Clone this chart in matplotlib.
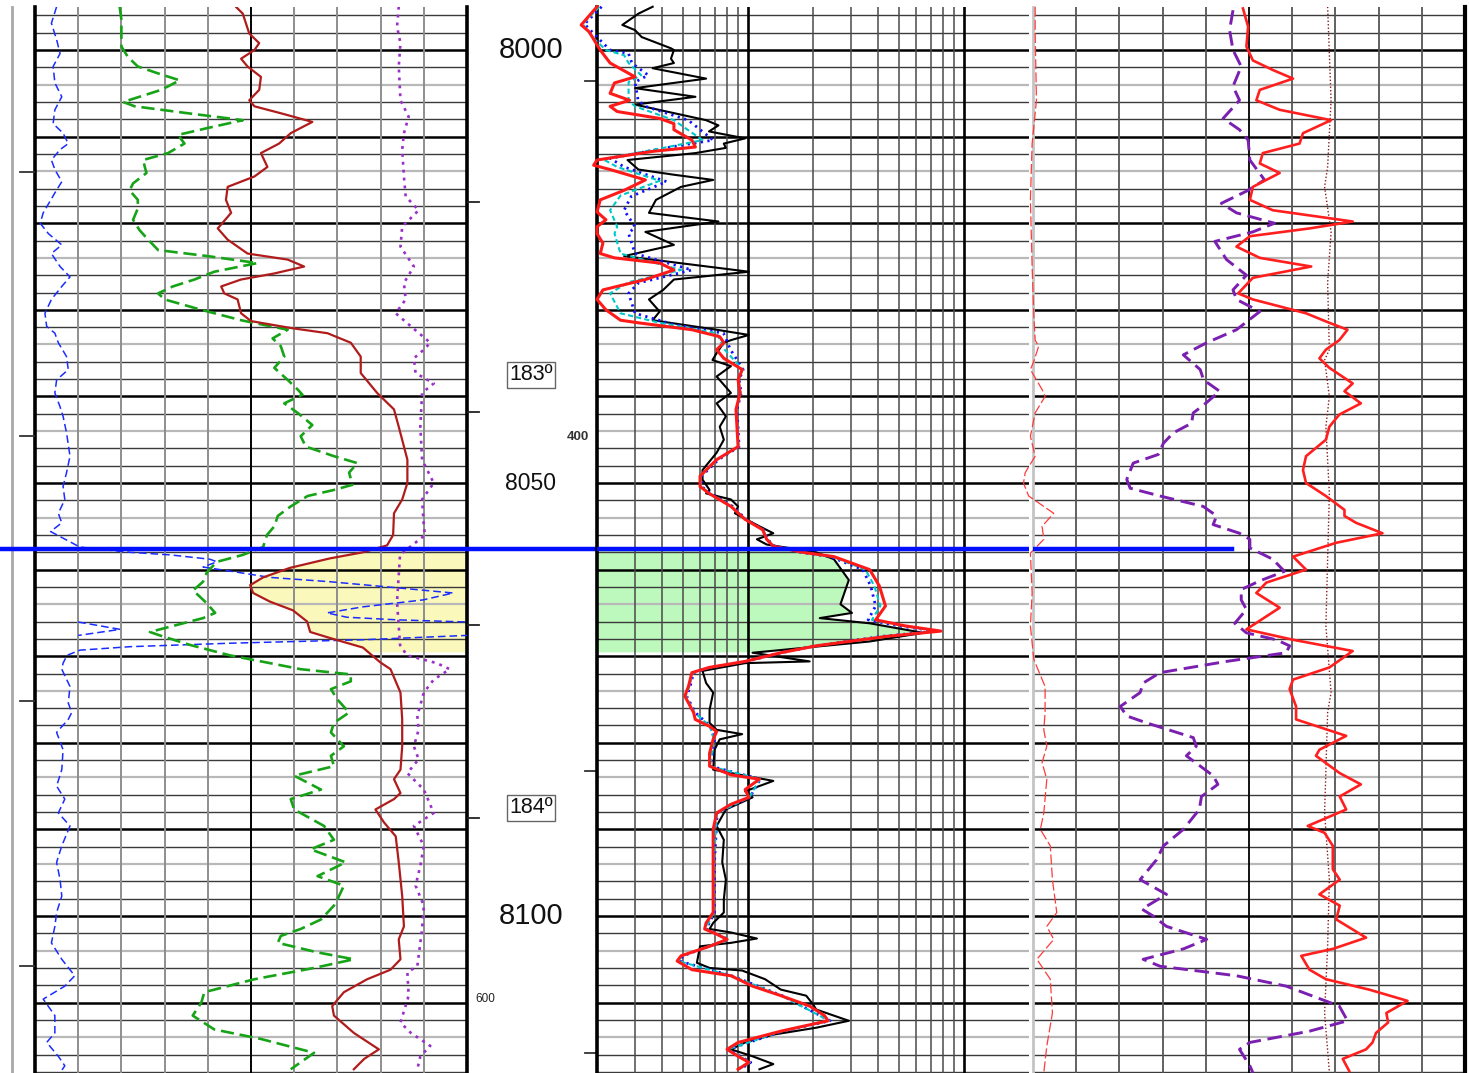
import numpy as np
import matplotlib
matplotlib.use("Agg")
import matplotlib.pyplot as plt

plt.rcParams['font.family'] = ['Liberation Sans', 'DejaVu Sans']

# ---------------- depth window (ft) ----------------
DEPTH_TOP, DEPTH_BOTTOM = 7995.03, 8118.13
ZONE_TOP, ZONE_BOTTOM = 8057.6, 8069.5   # pay zone marker & shading

# ---------------- left track (linear 0-100) ----------------
l1_depth = [7995.0, 7996.9, 7998.8, 8000.4, 8001.9, 8003.8, 8005.4, 8006.9, 8008.5, 8009.6, 8010.8, 8011.5,
            8012.7, 8013.8, 8015.2, 8016.5, 8018.8, 8020.0, 8021.2, 8022.5, 8023.5, 8025.0, 8026.2, 8027.3,
            8028.8, 8030.4, 8031.9, 8032.7, 8033.8, 8035.4, 8036.9, 8038.1, 8039.6, 8041.2, 8042.3, 8044.2,
            8046.9, 8048.8, 8050.4, 8051.9, 8053.5, 8054.6, 8055.6, 8057.4, 8058.0, 8058.3, 8058.8, 8059.1,
            8059.7, 8060.3, 8060.9, 8061.4, 8062.1, 8062.7, 8063.5, 8064.3, 8065.0, 8065.5, 8065.8, 8066.05,
            8066.9, 8067.6, 8068.1, 8068.5, 8068.9, 8069.3, 8069.9, 8070.8, 8071.5, 8073.5, 8075.4, 8076.5,
            8077.3, 8078.8, 8080.8, 8083.1, 8085.0, 8086.5, 8088.1, 8089.6, 8091.9, 8093.8, 8095.8, 8097.7,
            8099.6, 8101.2, 8103.1, 8105.0, 8106.9, 8108.1, 8109.6, 8111.5, 8113.5, 8114.6, 8116.2, 8117.3, 8118.1]
l1_value = [5.0, 3.8, 5.0, 5.8, 4.2, 4.6, 6.2, 4.6, 4.2, 6.5, 7.7, 5.8,
            3.8, 4.6, 6.2, 4.6, 1.9, 1.2, 3.1, 6.2, 3.8, 5.8, 8.1, 6.2,
            3.8, 2.3, 2.7, 4.6, 5.4, 7.3, 7.7, 5.0, 4.6, 5.8, 6.5, 7.3,
            8.1, 7.3, 6.5, 6.9, 5.4, 6.2, 3.6, 10.4, 22.0, 31.3, 40.5, 42.1,
            38.9, 46.8, 54.4, 68.3, 83.8, 96.8, 89.8, 75.9, 67.6, 72.2, 83.8, 100.0,
            109.7, 100.0, 75.9, 45.1, 22.0, 10.4, 7.4, 6.5, 6.2, 8.1, 7.7, 8.5,
            7.7, 5.0, 6.5, 6.2, 5.0, 6.9, 5.4, 8.1, 6.2, 5.0, 5.8, 6.2,
            5.0, 4.6, 3.8, 6.2, 9.2, 6.9, 1.9, 4.6, 4.6, 2.7, 5.4, 6.9, 5.8]

l2_depth = [7995.0, 7996.5, 7999.6, 8000.8, 8001.9, 8002.7, 8003.5, 8004.6, 8006.0, 8006.5, 8007.3, 8008.1,
            8009.0, 8009.8, 8010.8, 8011.9, 8012.7, 8014.2, 8015.4, 8016.2, 8017.3, 8018.3, 8019.6, 8020.8,
            8021.9, 8023.1, 8023.8, 8024.6, 8025.6, 8026.5, 8027.3, 8028.1, 8028.8, 8030.0, 8031.2, 8032.3,
            8033.3, 8034.2, 8035.4, 8036.7, 8038.1, 8039.2, 8039.8, 8040.8, 8041.9, 8043.3, 8044.6, 8045.8,
            8046.9, 8047.7, 8048.8, 8050.2, 8050.8, 8051.5, 8052.7, 8053.8, 8055.0, 8056.0, 8057.4, 8058.3,
            8059.1, 8060.3, 8061.4, 8062.4, 8063.9, 8065.0, 8065.6, 8067.2, 8067.6, 8068.7, 8069.9, 8070.8,
            8071.5, 8072.1, 8072.9, 8073.8, 8075.0, 8076.5, 8077.7, 8078.8, 8080.4, 8081.5, 8082.7, 8083.8,
            8085.4, 8086.5, 8087.7, 8089.6, 8091.2, 8092.3, 8093.8, 8095.4, 8096.5, 8098.1, 8098.8, 8100.4,
            8101.5, 8102.3, 8103.1, 8104.2, 8105.0, 8106.0, 8107.3, 8108.8, 8110.0, 8111.5, 8113.1, 8114.2,
            8115.8, 8117.7]
l2_value = [19.6, 20.0, 20.0, 21.5, 23.8, 28.5, 33.5, 29.2, 20.4, 23.1, 35.4, 48.1,
            40.0, 33.1, 34.6, 30.8, 25.0, 25.8, 22.7, 21.9, 23.8, 23.8, 22.7, 24.2,
            26.2, 28.5, 40.0, 51.5, 41.5, 36.9, 31.9, 28.5, 30.0, 38.5, 47.7, 58.5,
            55.0, 56.9, 57.7, 55.4, 58.5, 60.8, 61.9, 57.7, 60.8, 64.2, 61.5, 62.7,
            69.2, 74.6, 72.7, 73.5, 69.2, 63.1, 59.2, 56.2, 55.4, 53.7, 52.8, 48.1,
            42.1, 39.8, 38.9, 36.6, 39.8, 41.7, 38.9, 26.6, 28.9, 35.9, 45.1, 54.4,
            61.5, 73.1, 73.1, 68.5, 70.0, 72.7, 69.2, 68.5, 71.5, 68.5, 69.2, 60.0,
            66.2, 59.2, 60.0, 66.9, 69.2, 63.8, 71.9, 65.4, 71.5, 70.0, 69.2, 66.2,
            61.5, 56.9, 56.2, 65.4, 73.8, 64.6, 50.8, 39.2, 38.5, 36.5, 41.5, 52.3,
            64.6, 59.2]

l3_depth = [7995.0, 7995.8, 7998.1, 7999.2, 8000.0, 8001.0, 8001.9, 8003.1, 8004.6, 8005.8, 8006.5, 8007.3,
            8008.3, 8009.6, 8010.8, 8011.9, 8013.5, 8014.6, 8015.8, 8017.3, 8018.8, 8020.6, 8021.9, 8023.5,
            8024.2, 8025.0, 8025.8, 8026.5, 8027.3, 8028.1, 8028.8, 8030.4, 8031.3, 8032.1, 8032.7, 8033.8,
            8035.4, 8037.3, 8039.6, 8041.5, 8043.5, 8047.3, 8050.0, 8051.9, 8053.5, 8056.0, 8057.2, 8058.0,
            8058.7, 8059.8, 8060.9, 8061.8, 8062.7, 8063.7, 8064.7, 8066.0, 8067.2, 8067.9, 8069.0, 8070.7,
            8071.5, 8074.2, 8077.3, 8080.4, 8083.1, 8084.2, 8085.8, 8086.5, 8087.7, 8089.2, 8090.8, 8093.8,
            8097.7, 8101.2, 8102.7, 8105.0, 8106.2, 8107.3, 8108.8, 8110.4, 8111.5, 8113.5, 8115.4, 8116.5, 8117.7]
l3_value = [46.5, 48.1, 49.6, 51.9, 50.8, 47.7, 49.2, 52.3, 51.9, 49.6, 50.8, 56.9,
            64.2, 59.2, 56.5, 52.3, 53.8, 50.8, 44.6, 44.2, 45.4, 42.3, 44.6, 49.2,
            58.5, 62.3, 55.4, 47.7, 43.1, 43.8, 46.9, 47.7, 50.0, 59.2, 67.7, 73.1,
            75.4, 75.4, 79.2, 83.1, 84.2, 86.2, 86.2, 85.0, 83.1, 82.9, 81.5, 75.9,
            68.3, 59.0, 52.8, 49.8, 50.5, 54.4, 59.7, 63.0, 63.7, 68.3, 75.9, 79.9,
            82.3, 84.6, 85.0, 85.0, 84.6, 83.1, 84.6, 83.1, 78.8, 80.8, 83.5, 84.2,
            85.0, 85.4, 84.2, 84.6, 82.3, 76.9, 71.5, 68.8, 69.2, 73.8, 79.6, 76.2, 73.8]

l4_depth = [7995.0, 7997.3, 7999.2, 8001.9, 8005.8, 8007.7, 8009.6, 8011.5, 8014.6, 8016.9, 8018.5, 8020.4,
            8022.7, 8025.0, 8026.9, 8028.8, 8030.4, 8031.9, 8033.8, 8034.6, 8035.6, 8037.3, 8038.5, 8039.6,
            8043.5, 8047.3, 8050.0, 8051.9, 8055.0, 8056.0, 8058.3, 8063.7, 8068.7, 8069.9, 8070.8, 8071.5,
            8072.7, 8074.2, 8076.9, 8078.5, 8080.4, 8081.9, 8083.5, 8085.4, 8088.1, 8089.6, 8091.9, 8094.2,
            8096.5, 8098.8, 8101.5, 8105.8, 8106.5, 8109.2, 8112.3, 8113.5, 8115.0, 8116.2, 8117.7]
l4_value = [84.2, 83.8, 84.6, 84.2, 84.6, 86.5, 85.4, 85.0, 85.4, 85.8, 88.8, 85.0,
            84.6, 87.7, 85.4, 85.8, 83.5, 87.0, 91.5, 90.0, 87.7, 88.1, 92.3, 89.6,
            89.2, 89.6, 92.3, 89.6, 90.0, 90.3, 84.5, 83.8, 84.5, 86.1, 93.0, 96.0,
            92.3, 90.0, 88.5, 88.8, 87.7, 88.8, 86.2, 90.0, 92.3, 87.7, 90.0, 89.2,
            88.1, 90.0, 89.6, 88.5, 86.2, 86.5, 84.6, 87.0, 91.5, 89.2, 88.5]

# ---------------- middle track (log 2-200) ----------------
m1_depth = [7995.0, 7995.8, 7997.1, 7997.7, 7998.5, 7999.8, 8000.0, 8001.0, 8001.5, 8002.1, 8003.3, 8004.4,
            8005.4, 8006.3, 8007.1, 8008.1, 8008.7, 8009.4, 8010.2, 8010.8, 8011.3, 8011.9, 8012.7, 8013.8,
            8014.4, 8015.0, 8015.8, 8017.3, 8018.8, 8019.8, 8021.0, 8022.5, 8023.8, 8025.6, 8026.5, 8027.7,
            8028.8, 8030.2, 8031.2, 8032.3, 8032.9, 8033.5, 8033.8, 8035.0, 8035.8, 8036.5, 8037.7, 8039.6,
            8040.8, 8042.3, 8043.5, 8045.0, 8046.5, 8048.5, 8049.6, 8050.8, 8051.2, 8051.9, 8052.7, 8053.5,
            8055.0, 8055.8, 8056.5, 8057.1, 8058.0, 8058.8, 8061.2, 8064.0, 8065.0, 8065.6, 8066.2, 8067.3,
            8068.3, 8069.6, 8070.6, 8070.8, 8071.7, 8073.1, 8074.2, 8076.2, 8077.7, 8078.5, 8079.0, 8079.6,
            8080.8, 8083.1, 8083.8, 8084.4, 8085.6, 8086.3, 8087.7, 8089.6, 8091.2, 8093.8, 8095.8, 8098.1,
            8099.6, 8100.8, 8101.5, 8101.9, 8102.6, 8103.1, 8103.5, 8105.4, 8106.0, 8106.3, 8107.3, 8108.5,
            8109.2, 8110.2, 8110.8, 8112.1, 8112.9, 8113.7, 8114.6, 8115.4, 8116.2, 8117.1, 8117.7]
m1_value = [3.62, 3.11, 2.62, 3.0, 3.22, 4.4, 4.54, 4.4, 4.54, 3.62, 6.4, 3.0,
            5.71, 3.0, 4.2, 6.4, 7.3, 6.6, 9.7, 7.73, 7.9, 5.71, 2.77, 3.11,
            4.54, 6.9, 4.9, 3.75, 3.48, 7.3, 3.35, 4.54, 2.67, 10.1, 4.54, 4.05,
            3.48, 3.9, 3.62, 7.16, 10.1, 8.34, 7.73, 7.16, 6.85, 8.34, 7.16, 8.34,
            7.16, 7.9, 7.4, 7.73, 7.16, 6.16, 6.16, 6.64, 6.4, 8.34, 9.0, 8.7,
            11.3, 13.1, 11.0, 12.2, 20.7, 25.0, 29.3, 26.8, 30.3, 21.5, 36.6, 64.7,
            36.6, 10.5, 19.3, 9.7, 6.16, 6.4, 6.9, 6.64, 6.64, 7.16, 9.4, 7.4,
            7.0, 6.9, 9.7, 13.1, 9.7, 10.5, 7.9, 7.16, 7.73, 7.6, 7.9, 7.73,
            7.73, 6.9, 6.64, 8.34, 11.0, 8.34, 6.0, 5.8, 6.64, 9.4, 12.0, 14.2,
            18.6, 20.0, 20.7, 29.3, 20.7, 13.1, 9.7, 8.34, 10.5, 13.1, 11.3]

m2_depth = [7995.0, 7997.0, 7998.5, 8000.0, 8000.4, 8001.5, 8002.9, 8003.7, 8005.8, 8006.5, 8008.1, 8010.4,
            8011.2, 8012.5, 8013.5, 8015.2, 8016.9, 8018.5, 8020.4, 8021.2, 8023.5, 8025.4, 8026.9, 8028.1,
            8030.4, 8031.7, 8032.7, 8034.6, 8036.9, 8038.1, 8039.6, 8041.5, 8045.8, 8047.3, 8049.2, 8050.4,
            8051.2, 8052.7, 8054.2, 8055.4, 8056.5, 8057.3, 8058.0, 8058.5, 8060.0, 8061.9, 8064.2, 8065.8,
            8066.5, 8067.1, 8067.7, 8068.8, 8069.6, 8070.6, 8071.3, 8071.9, 8073.5, 8074.6, 8076.5, 8078.1,
            8079.6, 8082.7, 8084.2, 8086.3, 8088.1, 8093.8, 8099.6, 8101.5, 8102.7, 8104.6, 8105.2, 8106.9,
            8109.2, 8112.1, 8113.3, 8115.4, 8116.9, 8117.7]
m2_value = [2.1, 1.75, 2.0, 2.3, 2.8, 2.9, 3.45, 3.0, 3.1, 3.35, 5.29, 6.9,
            4.4, 2.3, 2.67, 4.2, 2.88, 2.67, 3.0, 2.8, 3.0, 5.5, 3.11, 2.8,
            3.0, 4.54, 7.7, 8.3, 9.5, 9.1, 9.3, 8.9, 9.1, 7.3, 6.1, 6.1,
            6.7, 8.5, 9.8, 11.8, 12.3, 13.3, 17.5, 24.0, 34.0, 37.0, 39.0, 36.0,
            50.0, 74.0, 42.0, 20.5, 14.3, 9.8, 6.7, 5.6, 5.4, 5.2, 5.7, 6.7,
            7.0, 6.7, 11.4, 10.2, 7.2, 7.0, 7.0, 6.4, 8.1, 5.0, 4.8, 8.4,
            14.4, 24.0, 14.5, 8.1, 10.3, 9.2]

m3_depth = [7995.0, 7997.0, 7998.5, 8000.0, 8000.6, 8001.5, 8002.9, 8003.7, 8005.8, 8006.5, 8008.1, 8010.4,
            8011.3, 8012.6, 8013.5, 8015.1, 8016.8, 8018.5, 8020.4, 8021.2, 8023.5, 8025.4, 8026.8, 8028.1,
            8030.4, 8031.5, 8032.7, 8034.6, 8036.9, 8038.1, 8039.6, 8041.5, 8045.8, 8047.3, 8049.2, 8050.4,
            8051.2, 8052.7, 8054.2, 8055.4, 8056.5, 8057.3, 8058.0, 8058.5, 8060.0, 8061.9, 8064.2, 8065.8,
            8066.5, 8067.1, 8067.7, 8068.8, 8069.6, 8070.6, 8071.3, 8071.9, 8073.5, 8074.6, 8076.5, 8078.1,
            8079.6, 8082.7, 8084.2, 8086.3, 8088.1, 8093.8, 8099.6, 8101.5, 8102.7, 8104.6, 8105.2, 8106.9,
            8109.2, 8112.1, 8113.3, 8115.4, 8116.9, 8117.7]
m3_value = [2.05, 1.72, 1.9, 2.2, 2.67, 2.8, 3.2, 2.8, 2.8, 3.0, 4.54, 6.16,
            4.05, 2.13, 2.48, 3.9, 2.57, 2.3, 2.48, 2.41, 2.57, 4.9, 2.8, 2.3,
            2.57, 3.9, 7.16, 7.8, 9.45, 9.05, 9.25, 8.85, 9.05, 7.2, 6.05, 6.05,
            6.65, 8.4, 9.75, 11.75, 12.25, 13.2, 17.7, 24.5, 35.0, 38.5, 41.0, 37.5,
            52.0, 76.0, 43.0, 20.6, 14.25, 9.75, 6.65, 5.55, 5.35, 5.15, 5.65, 6.67,
            6.95, 6.67, 11.35, 10.15, 7.18, 6.95, 6.95, 6.35, 8.05, 4.95, 4.75, 8.37,
            14.3, 23.8, 14.35, 8.05, 10.2, 9.1]

m4_depth = [7995.0, 7997.1, 7997.9, 8000.0, 8001.5, 8003.1, 8003.8, 8005.0, 8005.8, 8006.5, 8007.1, 8007.9,
            8008.5, 8009.2, 8010.4, 8011.2, 8011.7, 8012.7, 8013.3, 8013.8, 8015.0, 8016.2, 8017.3, 8018.7,
            8019.6, 8020.4, 8021.2, 8022.3, 8023.5, 8024.0, 8024.6, 8025.4, 8026.5, 8027.7, 8028.8, 8030.0,
            8031.2, 8031.5, 8032.3, 8033.1, 8033.8, 8034.6, 8035.6, 8036.9, 8038.1, 8039.6, 8041.5, 8045.8,
            8047.3, 8049.2, 8050.4, 8051.2, 8052.7, 8054.2, 8055.4, 8056.5, 8057.3, 8058.0, 8058.5, 8060.0,
            8061.9, 8064.2, 8065.8, 8066.5, 8067.1, 8067.7, 8068.8, 8069.6, 8070.6, 8071.3, 8071.9, 8073.5,
            8074.6, 8076.5, 8077.3, 8078.1, 8078.7, 8079.6, 8081.2, 8082.7, 8083.7, 8084.2, 8085.4, 8086.3,
            8087.1, 8088.1, 8090.0, 8093.8, 8097.7, 8099.6, 8100.8, 8101.5, 8102.1, 8102.7, 8103.5, 8104.6,
            8105.2, 8106.2, 8106.9, 8108.1, 8109.2, 8110.4, 8111.5, 8112.1, 8113.3, 8114.6, 8115.4, 8116.2,
            8116.9, 8117.7]
m4_value = [2.0, 1.69, 1.84, 2.07, 2.3, 3.0, 2.41, 2.3, 2.83, 2.3, 2.48, 3.9,
            4.54, 4.54, 5.5, 5.71, 3.62, 2.0, 1.93, 2.3, 3.35, 2.67, 2.07, 2.0,
            2.2, 2.0, 2.0, 2.13, 2.07, 2.41, 3.9, 4.54, 3.35, 2.13, 2.0, 2.2,
            2.57, 3.11, 5.5, 7.4, 7.73, 7.16, 7.73, 9.4, 9.0, 9.2, 8.8, 9.0,
            7.16, 6.0, 6.0, 6.6, 8.34, 9.7, 11.7, 12.2, 13.1, 17.9, 25.0, 36.6,
            40.6, 43.3, 39.0, 53.5, 78.2, 44.2, 20.7, 14.2, 9.7, 6.6, 5.5, 5.3,
            5.1, 5.6, 5.7, 6.64, 7.16, 6.9, 6.64, 6.64, 8.34, 11.3, 9.7, 10.1,
            8.34, 7.16, 6.9, 6.9, 6.9, 6.9, 6.4, 6.3, 7.16, 8.0, 6.64, 4.9,
            4.7, 5.5, 8.34, 10.5, 14.2, 19.3, 22.6, 23.5, 14.2, 9.0, 8.0, 9.0,
            10.1, 9.0]

# ---------------- right track (linear 0-100) ----------------
r1_depth = [7995.0, 7998.1, 8005.8, 8010.8, 8017.3, 8025.0, 8030.8, 8033.5, 8034.2, 8035.8, 8036.9, 8039.2,
            8040.0, 8041.9, 8044.6, 8046.9, 8048.8, 8050.0, 8051.5, 8053.5, 8055.0, 8056.5, 8058.1, 8062.7,
            8066.5, 8070.4, 8073.5, 8076.5, 8078.5, 8080.4, 8082.3, 8084.2, 8088.1, 8090.0, 8091.9, 8095.8,
            8099.6, 8101.2, 8102.7, 8105.0, 8107.3, 8111.2, 8115.0, 8118.1]
r1_value = [0.5, 0.5, 0.8, -0.2, -0.6, -0.2, 0.2, 0.5, 1.3, 0.3, -0.6, 2.1,
            2.8, 0.5, -0.6, 0.5, -1.8, -2.2, -1.0, 4.8, 2.1, 2.5, -0.6, -0.2,
            -0.6, 0.2, 2.8, 2.8, 2.5, 3.2, 2.1, 3.2, 2.5, 1.7, 4.0, 4.5,
            5.5, 3.2, 4.8, 0.9, 4.0, 4.5, 3.2, 2.5]

r2_depth = [7995.4, 7997.7, 8000.0, 8001.9, 8004.2, 8005.8, 8007.9, 8009.2, 8010.4, 8012.7, 8015.0, 8016.3,
            8017.7, 8018.8, 8020.0, 8021.0, 8022.1, 8024.2, 8026.0, 8027.7, 8028.8, 8030.2, 8032.3, 8033.8,
            8035.2, 8036.9, 8038.1, 8039.4, 8041.0, 8041.9, 8043.1, 8044.2, 8045.4, 8046.7, 8047.7, 8049.6,
            8050.6, 8051.5, 8052.7, 8053.8, 8054.8, 8055.8, 8056.5, 8057.5, 8058.8, 8060.2, 8061.3, 8062.3,
            8063.5, 8064.6, 8066.2, 8067.3, 8068.1, 8068.8, 8069.6, 8070.6, 8071.9, 8073.1, 8074.2, 8075.8,
            8076.9, 8077.7, 8079.4, 8080.4, 8081.5, 8083.8, 8084.8, 8086.2, 8087.7, 8090.0, 8091.9, 8093.5,
            8095.8, 8097.5, 8099.2, 8100.0, 8101.2, 8102.7, 8103.8, 8105.0, 8105.8, 8106.9, 8108.1, 8110.4,
            8112.1, 8113.3, 8114.6, 8115.4, 8117.3, 8118.1]
r2_value = [46.3, 45.5, 46.3, 48.2, 46.3, 47.8, 44.0, 47.8, 49.8, 50.2, 53.6, 49.4,
            43.6, 47.1, 55.9, 50.9, 42.1, 44.8, 49.4, 46.3, 47.1, 52.5, 47.1, 40.2,
            34.8, 38.7, 39.5, 43.2, 39.5, 37.1, 36.7, 32.5, 30.2, 29.0, 23.2, 21.7,
            22.5, 29.4, 39.4, 42.5, 41.7, 47.8, 50.2, 50.2, 55.5, 58.2, 52.5, 48.2,
            48.2, 49.4, 46.7, 49.4, 56.3, 59.4, 58.6, 44.8, 29.4, 25.5, 24.8, 20.2,
            21.7, 26.3, 37.1, 37.8, 35.5, 41.7, 42.8, 39.0, 38.5, 34.8, 30.2, 28.6,
            24.8, 30.9, 25.2, 27.8, 30.9, 40.2, 34.8, 25.5, 29.4, 47.1, 58.6, 70.9,
            72.8, 64.0, 50.2, 47.8, 50.2, 50.9]

r3_depth = [7995.2, 7997.3, 7999.6, 8001.2, 8002.3, 8003.3, 8004.6, 8005.8, 8006.9, 8008.1, 8009.6, 8010.8,
            8011.9, 8013.1, 8014.2, 8015.8, 8017.3, 8018.5, 8019.8, 8020.6, 8021.5, 8022.7, 8024.0, 8025.0,
            8026.3, 8028.1, 8028.8, 8030.4, 8031.5, 8032.3, 8033.5, 8034.6, 8035.6, 8036.7, 8038.5, 8039.4,
            8040.8, 8042.1, 8043.5, 8045.0, 8046.9, 8048.5, 8050.0, 8051.5, 8053.1, 8053.8, 8054.6, 8055.8,
            8056.9, 8058.5, 8060.0, 8061.5, 8062.7, 8064.4, 8066.9, 8068.1, 8069.4, 8071.3, 8072.7, 8073.8,
            8075.8, 8077.3, 8079.2, 8080.8, 8081.5, 8083.5, 8084.8, 8086.2, 8087.7, 8089.6, 8090.4, 8091.9,
            8094.6, 8095.8, 8097.5, 8098.8, 8100.4, 8102.5, 8103.8, 8104.6, 8106.2, 8107.3, 8108.5, 8109.8,
            8111.2, 8112.3, 8113.5, 8114.6, 8115.4, 8116.5, 8117.9]
r3_value = [48.6, 49.8, 49.4, 50.9, 55.5, 60.2, 52.5, 51.7, 57.1, 69.0, 62.5, 61.7,
            53.2, 52.5, 57.1, 50.9, 50.2, 55.5, 74.0, 64.0, 50.2, 47.1, 52.5, 64.4,
            50.9, 47.5, 50.9, 63.2, 68.6, 72.8, 70.9, 67.8, 66.3, 68.6, 74.0, 72.1,
            75.9, 70.9, 68.6, 67.8, 63.2, 62.5, 63.2, 67.8, 72.1, 72.1, 74.8, 80.9,
            70.2, 60.2, 63.2, 54.0, 51.7, 57.1, 49.4, 60.2, 74.0, 68.6, 60.2, 59.4,
            60.9, 60.9, 72.5, 66.3, 65.5, 71.0, 75.9, 71.0, 72.5, 63.6, 67.5, 69.4,
            69.4, 71.0, 66.3, 71.0, 70.2, 77.1, 69.4, 62.1, 64.0, 67.8, 77.8, 86.7,
            81.8, 82.2, 79.4, 78.6, 77.1, 71.7, 73.2]

r4_depth = [7995.0, 8005.8, 8013.5, 8015.8, 8021.0, 8026.9, 8034.6, 8035.8, 8040.0, 8043.5, 8051.2, 8058.8,
            8066.5, 8074.2, 8076.5, 8088.1, 8095.8, 8103.5, 8111.2, 8118.0]
r4_value = [68.2, 69.0, 68.2, 67.5, 69.0, 68.2, 68.6, 67.5, 68.6, 67.8, 68.6, 68.2,
            67.8, 69.0, 68.2, 67.5, 68.6, 68.2, 67.5, 68.6]

# ---------------- annotations ----------------
depth_labels = [8000, 8050, 8100]
depth_label_sizes = [21, 16.5, 21]
temp_labels = ["183º", "184º"]
temp_depths = [8037.5, 8087.5]
scale_labels = ["400", "600"]
scale_label_depths = [8044.7, 8109.6]
ticks_left_margin = [8014.1, 8044.6, 8075.2, 8105.8]
ticks_depth_left = [8017.55, 8041.8, 8066.4, 8088.7]
ticks_depth_right = [8003.6, 8083.3, 8115.8]

# ---------------- figure ----------------
W, Hpx = 1469, 1073
fig = plt.figure(figsize=(W / 100, Hpx / 100), dpi=100)
H = 1066 / Hpx
ax_l = fig.add_axes([35 / W, 0, 432 / W, H])
ax_d = fig.add_axes([467 / W, 0, 130 / W, H])
ax_m = fig.add_axes([597 / W, 0, 432 / W, H])
ax_r = fig.add_axes([1033 / W, 0, 432 / W, H])

ax_l.set_xlim(0, 100)
ax_r.set_xlim(0, 100)
ax_m.set_xscale('log')
ax_m.set_xlim(2, 200)
ax_d.set_xlim(0, 1)
for ax in (ax_l, ax_d, ax_m, ax_r):
    ax.set_ylim(DEPTH_BOTTOM, DEPTH_TOP)
    ax.set_axis_off()

# horizontal grid
grid_depths = np.arange(7996, 8119, 2)
for ax in (ax_l, ax_m, ax_r):
    for d in grid_depths:
        if d % 10 == 0:
            ax.axhline(d, color='black', lw=1.8, zorder=1)
        elif d % 10 == 4:
            ax.axhline(d, color='#b8b8b8', lw=1.6, zorder=1)
        else:
            ax.axhline(d, color='#3a3a3a', lw=1.0, zorder=1)

# vertical grid - left track
for v in range(10, 100, 10):
    ax_l.axvline(v, color='black' if v == 50 else '#8e8e8e', lw=1.4, zorder=1)
for v in (0, 100):
    ax_l.axvline(v, color='black', lw=2.6, zorder=2, clip_on=False)
# middle (log)
for dec in (1, 10):
    for k in range(2, 10):
        v = k * dec
        if v > 2:
            ax_m.axvline(v, color='#4a4a4a', lw=1.1, zorder=1)
for v in (10, 100):
    ax_m.axvline(v, color='black', lw=1.9, zorder=1)
ax_m.axvline(2, color='black', lw=2.6, zorder=2, clip_on=False)
# right
for v in range(10, 100, 10):
    ax_r.axvline(v, color='black' if v == 50 else '#555555', lw=1.3, zorder=1)
ax_r.axvline(0, color='#c4c4c4', lw=2.0, zorder=1, clip_on=False)
ax_r.axvline(100, color='black', lw=3.0, zorder=2, clip_on=False)

# fills in the pay zone
dd = np.linspace(ZONE_TOP, ZONE_BOTTOM, 300)
ax_l.fill_betweenx(dd, np.interp(dd, l3_depth, l3_value), 100, color='#fbf8bc', lw=0, zorder=0.5)
ax_m.fill_betweenx(dd, 2, 10 ** np.interp(dd, m1_depth, np.log10(m1_value)),
                   color='#bdf8bd', lw=0, zorder=0.5)

# left-track curves
l1v = np.array(l1_value)
ax_l.plot(l1v, l1_depth, color='#1a2cff', lw=1.1, dashes=(5, 2.6), zorder=3)
ax_l.plot(np.where(l1v >= 100, l1v - 90, np.nan), l1_depth, color='#1a2cff', lw=1.1,
          dashes=(5, 2.6), zorder=3)
ax_l.plot(l2_value, l2_depth, color='#17a317', lw=1.9, dashes=(5, 2.2), zorder=3)
ax_l.plot(l3_value, l3_depth, color='#b01c1c', lw=1.6, zorder=3)
ax_l.plot(l4_value, l4_depth, color='#9a30c8', lw=1.9, dashes=(1.1, 1.9), zorder=3)

# middle-track curves
ax_m.plot(m1_value, m1_depth, color='black', lw=1.5, zorder=3, clip_on=False)
ax_m.plot(m2_value, m2_depth, color='#1010ff', lw=2.0, dashes=(0.8, 1.6), zorder=3, clip_on=False)
ax_m.plot(m3_value, m3_depth, color='#00c8c8', lw=1.5, dashes=(2.5, 1.5), zorder=3, clip_on=False)
ax_m.plot(m4_value, m4_depth, color='#ff1a1a', lw=2.2, zorder=4, clip_on=False)

# right-track curves
ax_r.plot(r1_value, r1_depth, color='#ff3a3a', lw=0.9, dashes=(8, 2.5), zorder=3, clip_on=False)
ax_r.plot(r4_value, r4_depth, color='#8b1a1a', lw=1.0, dashes=(1, 1.5), zorder=3)
ax_r.plot(r2_value, r2_depth, color='#7a1fb0', lw=2.1, dashes=(5, 2.3), zorder=3)
ax_r.plot(r3_value, r3_depth, color='#ff1f1f', lw=1.9, zorder=4)

# pay-zone top marker
ax_l.axhline(ZONE_TOP, xmin=-35 / 432, xmax=1, color='#0010ff', lw=3.2, zorder=6, clip_on=False)
ax_d.axhline(ZONE_TOP, color='#0010ff', lw=3.2, zorder=6)
ax_m.axhline(ZONE_TOP, color='#0010ff', lw=3.2, zorder=6)
ax_r.axhline(ZONE_TOP, xmin=0, xmax=199 / 432, color='#0010ff', lw=3.2, zorder=6)

# left margin line + ticks
ax_l.axvline(-23 / 4.32, color='#a8a8a8', lw=2.0, clip_on=False)
for d in ticks_left_margin:
    ax_l.plot([-15 / 4.32, -0.3], [d, d], color='#333333', lw=1.3, clip_on=False)

# depth track
for d in ticks_depth_left:
    ax_d.plot([0, 0.092], [d, d], color='#222222', lw=1.3)
for d in ticks_depth_right:
    ax_d.plot([0.908, 1], [d, d], color='#333333', lw=1.3)
for lab, fs in zip(depth_labels, depth_label_sizes):
    ax_d.text(0.492, lab, str(lab), ha='center', va='center', fontsize=fs, color='#111111')
for lab, d in zip(temp_labels, temp_depths):
    ax_d.text(0.492, d, lab, ha='center', va='center', fontsize=15.5, color='#111111',
              bbox=dict(boxstyle='square,pad=0.12', fc='white', ec='#666666', lw=1.0))
ax_d.text(0.855, scale_label_depths[0], scale_labels[0], ha='center', va='center', fontsize=9.5,
          fontweight='bold', color='#333333')
ax_d.text(0.14, scale_label_depths[1], scale_labels[1], ha='center', va='center', fontsize=8.5,
          color='#222222')

fig.savefig('out.png', dpi=100, facecolor='white')
